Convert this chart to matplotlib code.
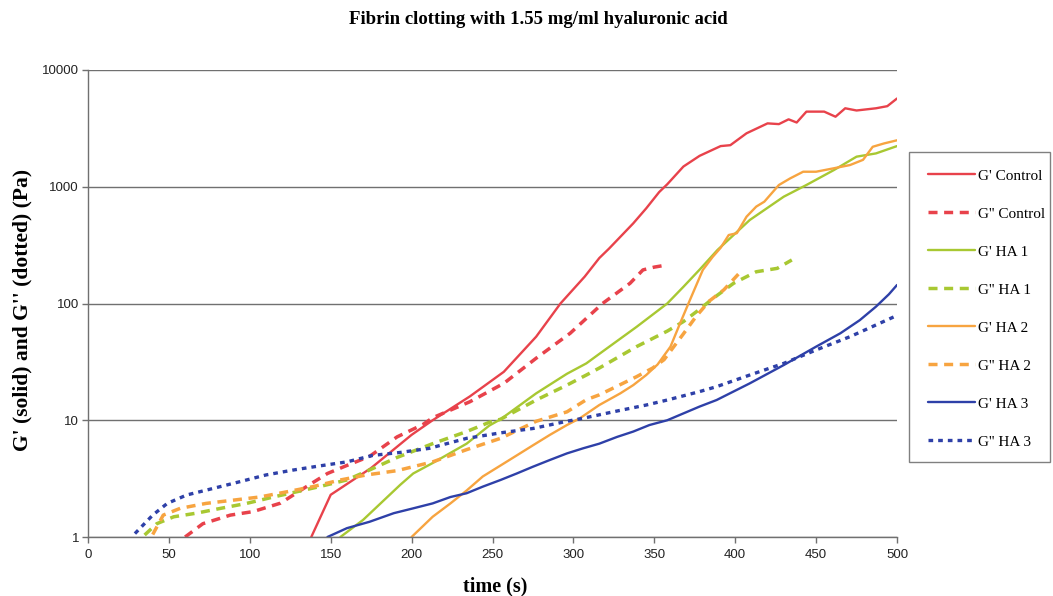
import matplotlib
matplotlib.use("Agg")
import matplotlib.pyplot as plt
from matplotlib.patches import Rectangle
from matplotlib.ticker import FixedLocator, FixedFormatter, NullLocator

# --- data: time (s) and modulus (Pa) for each trace ---
t_gp_control = [138, 150, 175, 200, 213, 236, 257, 277, 292, 307, 316, 322, 337, 345, 353, 358, 368, 378,
                391, 397, 407, 420, 427, 433, 438, 444, 455, 462, 468, 475, 487, 494, 500]
v_gp_control = [1.0, 2.3, 3.9, 7.5, 10, 16, 26, 52, 100, 170, 245, 295, 486, 653, 900, 1050, 1490, 1840,
                2230, 2270, 2870, 3490, 3440, 3780, 3550, 4400, 4400, 3980, 4700, 4500, 4700, 4900, 5700]

t_gpp_control = [60, 71, 88, 102, 119, 135, 148, 160, 174, 191, 207, 213, 236, 257, 277, 298, 318, 335,
                 343, 350, 358]
v_gpp_control = [1.0, 1.3, 1.54, 1.65, 1.95, 2.7, 3.5, 4.1, 4.9, 7.2, 9.2, 10.5, 14.4, 20.7, 34, 55.6,
                 100, 149, 194, 205, 214]

t_gp_ha1 = [156, 170, 185, 193, 201, 213, 234, 248, 255, 277, 296, 308, 316, 339, 358, 368, 378, 389,
            409, 430, 444, 461, 475, 487, 500]
v_gp_ha1 = [1.0, 1.4, 2.2, 2.8, 3.5, 4.3, 6.3, 9.0, 10.2, 17, 25, 30.7, 37, 63, 100, 139, 195, 287,
            519, 822, 1035, 1390, 1810, 1930, 2230]

t_gpp_ha1 = [35, 42.5, 53, 67, 82, 98, 114.5, 129, 143, 160, 174, 191, 213, 234, 248, 255, 277, 296,
             308, 316, 339, 358, 368, 376, 386.5, 399, 413, 426, 435]
v_gpp_ha1 = [1.04, 1.3, 1.49, 1.6, 1.76, 1.94, 2.2, 2.44, 2.7, 3.08, 3.75, 4.8, 6.3, 8.0, 9.6, 10.2, 14.9,
             20, 24.4, 28, 42.7, 58, 70, 85, 111, 149, 187, 200, 236]

t_gp_ha2 = [200, 213, 224, 234, 244, 255, 265, 275, 285.5, 296, 304, 316, 329, 337, 345, 352, 360, 366,
            372, 380, 386, 391, 396, 401, 407, 413, 418, 427, 434, 442, 450, 461, 471, 479, 485, 492, 500]
v_gp_ha2 = [1.0, 1.49, 1.94, 2.5, 3.3, 4.1, 5.0, 6.1, 7.5, 9.1, 10.4, 13.5, 17, 20, 24.4, 30, 42.7, 68,
            107, 194, 250, 300, 386, 400, 554, 676, 745, 1035, 1180, 1345, 1345, 1440, 1535, 1700, 2200,
            2350, 2500]

t_gpp_ha2 = [40, 46.5, 57, 73, 90, 106, 123, 139, 156, 172, 191, 213, 234, 255, 277, 296, 308, 316, 339,
             349, 356, 368, 376, 384, 393, 403]
v_gpp_ha2 = [1.05, 1.54, 1.76, 1.94, 2.07, 2.2, 2.44, 2.7, 3.08, 3.4, 3.7, 4.4, 5.6, 7.0, 9.8, 11.8,
             15.0, 16.5, 23.6, 28, 33, 55, 78, 105, 131, 185]

t_gp_ha3 = [148, 160, 174, 189, 201, 213, 224, 234, 244, 255, 265, 275, 285.5, 296, 306, 316, 327, 337,
            347, 358, 378, 388.5, 409, 430, 450, 465, 477, 487, 495, 500]
v_gp_ha3 = [1.0, 1.19, 1.35, 1.6, 1.76, 1.94, 2.2, 2.37, 2.7, 3.08, 3.5, 4.0, 4.57, 5.2, 5.75, 6.3, 7.2,
            8.0, 9.1, 10, 13.1, 14.9, 20.7, 29.7, 42.7, 55.6, 72, 94, 120, 144]

t_gpp_ha3 = [29, 40, 49, 61, 77.5, 94, 110, 127, 143, 160, 176, 193, 211, 234, 255, 275, 296, 306, 327,
             345, 358, 378, 388.5, 409, 430, 450, 471, 500]
v_gpp_ha3 = [1.07, 1.54, 1.94, 2.29, 2.61, 2.98, 3.4, 3.75, 4.06, 4.4, 5.0, 5.3, 5.75, 7.0, 7.8, 8.5,
             9.8, 10.4, 12.0, 13.5, 14.9, 17.6, 19.4, 24.4, 30.7, 40, 52, 79]

labels = ["G' Control", "G'' Control", "G' HA 1", "G'' HA 1", "G' HA 2", "G'' HA 2", "G' HA 3", "G'' HA 3"]
y_ticks = [1, 10, 100, 1000, 10000]
y_tick_labels = ["1", "10", "100", "1000", "10000"]
x_ticks = list(range(0, 501, 50))

RED = "#E8424B"
GREEN = "#A8C832"
ORANGE = "#F7A440"
BLUE = "#2E40A8"

series = [
    (t_gp_control, v_gp_control, RED, "solid"),
    (t_gpp_control, v_gpp_control, RED, "dash"),
    (t_gp_ha1, v_gp_ha1, GREEN, "solid"),
    (t_gpp_ha1, v_gpp_ha1, GREEN, "dash"),
    (t_gp_ha2, v_gp_ha2, ORANGE, "solid"),
    (t_gpp_ha2, v_gpp_ha2, ORANGE, "dash"),
    (t_gp_ha3, v_gp_ha3, BLUE, "solid"),
    (t_gpp_ha3, v_gpp_ha3, BLUE, "dot"),
]

SERIF = ["Liberation Serif", "DejaVu Serif"]
SANS = ["Liberation Sans", "DejaVu Sans"]

W, H = 1053, 596
fig = plt.figure(figsize=(W / 100, H / 100), dpi=100)
ax = fig.add_axes([88 / W, 1 - 537 / H, (897 - 88) / W, (537 - 70) / H])

handles = []
for (t, v, color, style), label in zip(series, labels):
    if style == "solid":
        (ln,) = ax.plot(t, v, color=color, lw=1.7, solid_capstyle="round", label=label)
    elif style == "dash":
        (ln,) = ax.plot(t, v, color=color, lw=2.5, dashes=(2.6, 1.9), label=label)
    else:
        (ln,) = ax.plot(t, v, color=color, lw=2.4, dashes=(1.4, 1.5), label=label)
    handles.append(ln)

ax.set_yscale("log")
ax.set_ylim(1, 10000)
ax.set_xlim(0, 500)
ax.yaxis.set_major_locator(FixedLocator(y_ticks))
ax.yaxis.set_major_formatter(FixedFormatter(y_tick_labels))
ax.yaxis.set_minor_locator(NullLocator())
ax.set_xticks(x_ticks)
ax.set_xticklabels([str(x) for x in x_ticks])

ax.grid(axis="y", which="major", color="#707070", lw=1.0)
ax.set_axisbelow(True)
for side in ("top", "right"):
    ax.spines[side].set_visible(False)
for side in ("left", "bottom"):
    ax.spines[side].set_color("#707070")
    ax.spines[side].set_linewidth(1.0)

ax.tick_params(axis="both", direction="out", length=4, width=1, color="#707070",
               labelsize=9.5, labelcolor="#222222", pad=2.5)
ax.tick_params(axis="x", pad=4.5)
for lab in ax.get_xticklabels() + ax.get_yticklabels():
    lab.set_family(SANS)

fig.text(538 / W, 1 - 19 / H, "Fibrin clotting with 1.55 mg/ml hyaluronic acid",
         ha="center", va="center", family=SERIF, fontweight="bold", fontsize=13.5)
fig.text(495 / W, 1 - 586 / H, "time (s)", ha="center", va="center",
         family=SERIF, fontweight="bold", fontsize=14.5)
fig.text(22 / W, 1 - 310 / H, "G' (solid) and G'' (dotted) (Pa)", ha="center", va="center",
         rotation=90, family=SERIF, fontweight="bold", fontsize=15.5)

# legend box and entries
fig.patches.append(Rectangle((909 / W, 1 - 462 / H), 141 / W, 310 / H, transform=fig.transFigure,
                             fill=False, edgecolor="#808080", lw=1.0))
fig.legend(handles, labels, loc="upper left", bbox_to_anchor=(928 / W, 1 - 169 / H),
           frameon=False, prop={"family": SERIF, "size": 11}, handlelength=3.07,
           handletextpad=0.2, labelspacing=1.59, borderpad=0, borderaxespad=0)

fig.savefig("out.png", dpi=100)
